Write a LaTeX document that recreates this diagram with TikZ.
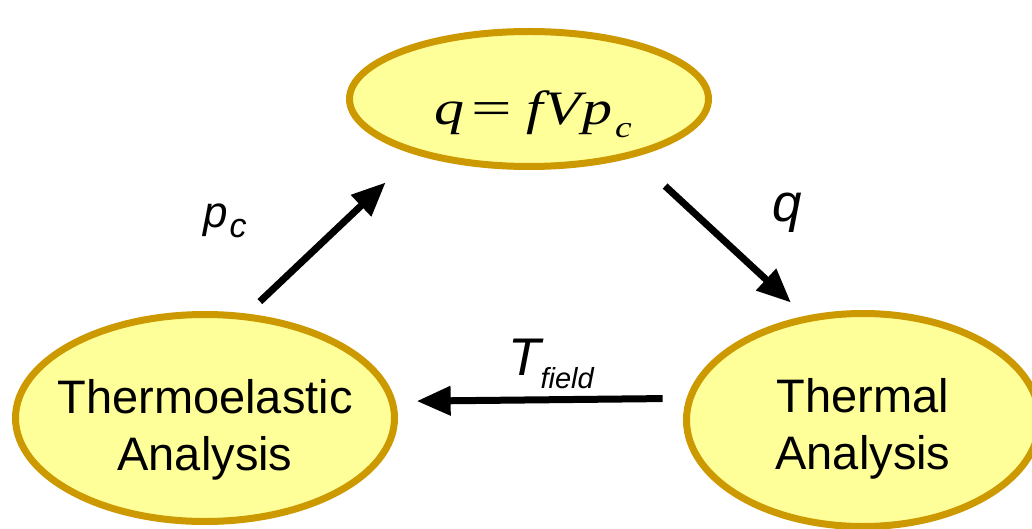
\documentclass[tikz,border=0pt]{standalone}
\usepackage{fontspec}
\setmainfont{Liberation Sans}
\newfontfamily\tnr{Liberation Serif}
\usetikzlibrary{arrows.meta,shapes.geometric}
\definecolor{efill}{HTML}{FFFF99}
\definecolor{eborder}{HTML}{CC9900}
\begin{document}
\begin{tikzpicture}[x=1pt,y=-1pt,
  bubble/.style={ellipse, draw=eborder, fill=efill, line width=7pt, inner xsep=-60pt, inner ysep=-40pt, font=\fontsize{47}{57}\selectfont},
  flow/.style={line width=7pt, -{Triangle[length=34pt,width=28pt]}},
  lbl/.style={font=\itshape, inner sep=0pt, anchor=base west}]
\useasboundingbox (0,0) rectangle (1032,529);
\node[bubble, minimum width=359pt, minimum height=135pt] (top) at (529,99)
  {\raisebox{-26pt}[0pt][0pt]{\scalebox{1.25}[1]{\fontsize{48}{48}\selectfont\tnr\itshape \hspace*{7pt}q\hspace{5pt}{\upshape\scalebox{1.2}[1]{=}}\hspace{12pt}f\hspace{1pt}V\hspace{1pt}p\hspace{2pt}\raisebox{-13pt}{\fontsize{30}{30}\selectfont c}}}};
\node[bubble, minimum width=379pt, minimum height=207pt] (left) at (205,418)
  {\raisebox{5pt}[0pt][0pt]{\begin{tabular}[t]{@{}c@{}}Thermoelastic\\Analysis\end{tabular}}};
\node[bubble, minimum width=353pt, minimum height=213pt] (right) at (863,420)
  {\raisebox{8pt}[0pt][0pt]{\begin{tabular}[t]{@{}c@{}}Thermal\\Analysis\end{tabular}}};
\draw[flow, shorten <=17.5pt, shorten >=40.5pt] (left.68.5) -- (top.206.3);
\draw[flow, shorten <=42.5pt, shorten >=19.5pt] (top.331.2) -- (right.119);
\draw[flow, shorten <=24pt, shorten >=21pt] (right.173.4) -- (left.5.5);
\node[lbl] (pc) at (203,227) {\fontsize{44}{44}\selectfont p\hspace{2pt}\raisebox{-10pt}{\fontsize{34}{34}\selectfont c}};
\node[lbl] (ql) at (772,222) {\fontsize{53}{53}\selectfont q};
\node[lbl] (tf) at (508,375) {\fontsize{53}{53}\selectfont T\raisebox{-13pt}{\fontsize{29}{29}\selectfont field}};
\end{tikzpicture}
\end{document}
